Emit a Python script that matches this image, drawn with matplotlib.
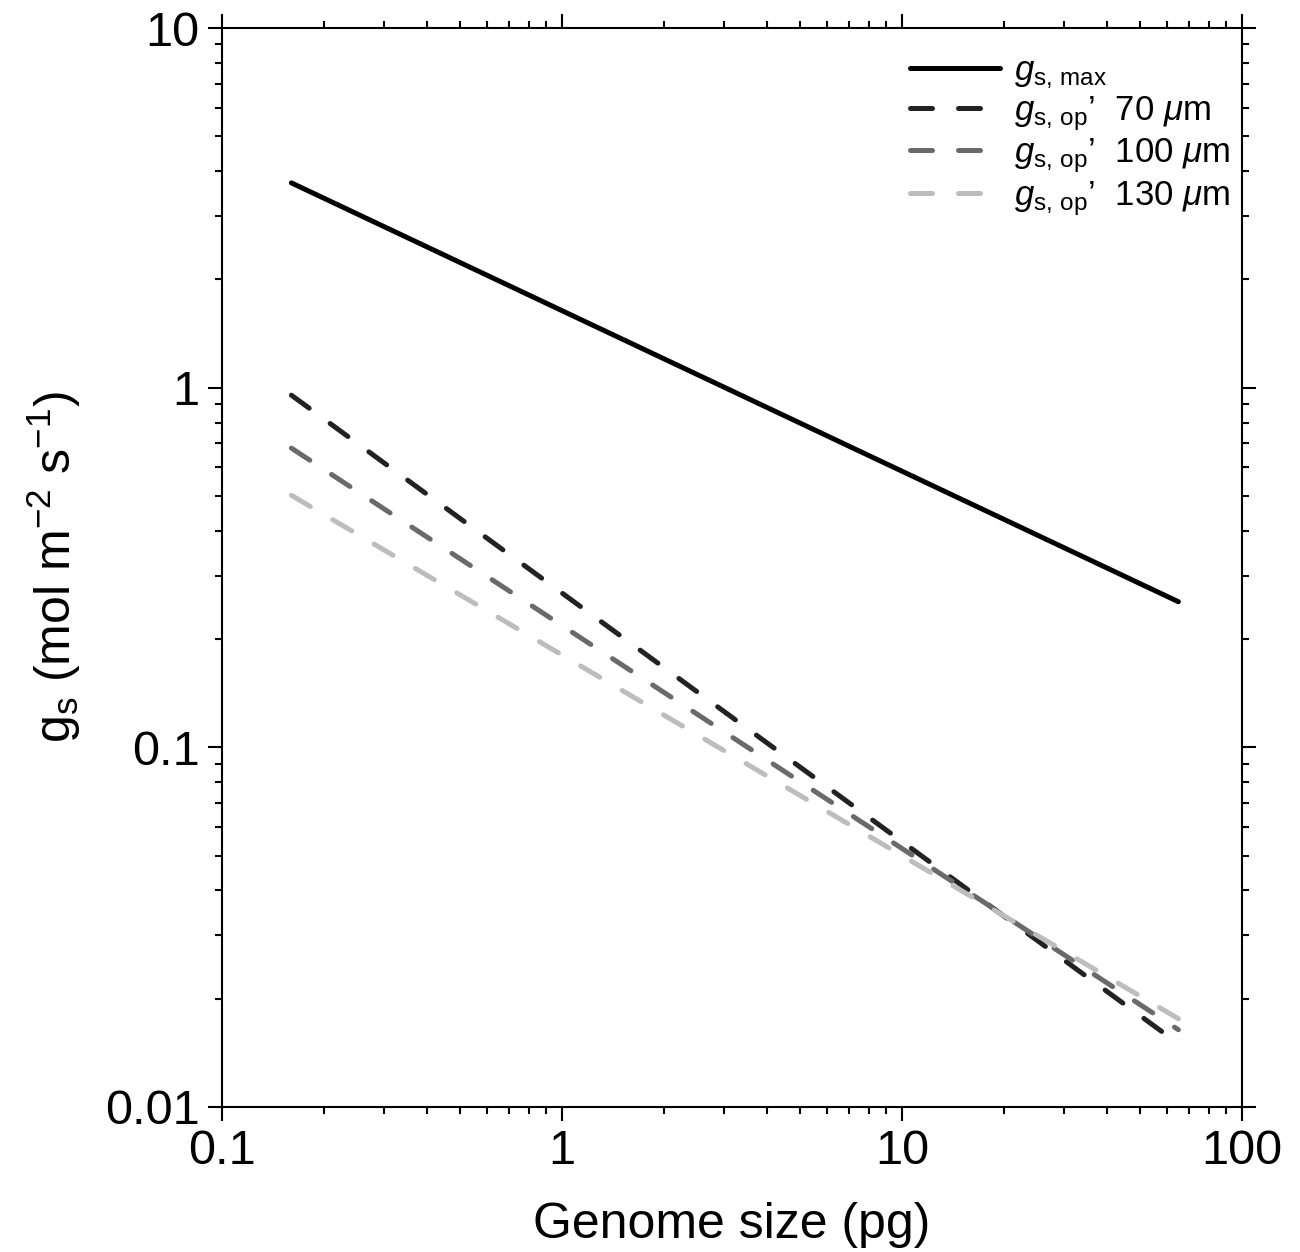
import matplotlib
matplotlib.use("Agg")
import matplotlib.pyplot as plt
from matplotlib.ticker import LogLocator, NullFormatter, FixedLocator, FixedFormatter

plt.rcParams["font.family"] = ["Liberation Sans", "DejaVu Sans"]
plt.rcParams["mathtext.fontset"] = "custom"
plt.rcParams["mathtext.rm"] = "Liberation Sans"
plt.rcParams["mathtext.it"] = "Liberation Sans:italic"
plt.rcParams["mathtext.bf"] = "Liberation Sans:bold"

# genome size (pg) at the two ends of each fitted line
genome = [0.16, 65]

# stomatal conductance (mol m-2 s-1)
gs_max = [3.71, 0.254]
gs_op_70 = [0.953, 0.0150]
gs_op_100 = [0.679, 0.0164]
gs_op_130 = [0.502, 0.0176]

labels = [r"$g_{\mathrm{s,\,max}}$",
          r"$g_{\mathrm{s,\,op}}$’  70 $\mu$m",
          r"$g_{\mathrm{s,\,op}}$’  100 $\mu$m",
          r"$g_{\mathrm{s,\,op}}$’  130 $\mu$m"]

x_ticks = [0.1, 1, 10, 100]
x_ticklabels = ["0.1", "1", "10", "100"]
y_ticks = [0.01, 0.1, 1, 10]
y_ticklabels = ["0.01", "0.1", "1", "10"]

fig = plt.figure(figsize=(13, 12.52), dpi=100)
ax = fig.add_axes([222 / 1300, 1 - 1107 / 1252, (1242 - 222) / 1300, (1107 - 28) / 1252])

lw = 3.6
dash = (0, (4.4, 5.2))
ax.plot(genome, gs_max, color="black", lw=lw, solid_capstyle="round", label=labels[0])
ax.plot(genome, gs_op_70, color="#222222", lw=lw, ls=dash, dash_capstyle="round", label=labels[1])
ax.plot(genome, gs_op_100, color="#6a6a6a", lw=lw, ls=dash, dash_capstyle="round", label=labels[2])
ax.plot(genome, gs_op_130, color="#bdbdbd", lw=lw, ls=dash, dash_capstyle="round", label=labels[3])

ax.set_xscale("log")
ax.set_yscale("log")
ax.set_xlim(0.1, 100)
ax.set_ylim(0.01, 10)

ax.xaxis.set_major_locator(FixedLocator(x_ticks))
ax.xaxis.set_major_formatter(FixedFormatter(x_ticklabels))
ax.yaxis.set_major_locator(FixedLocator(y_ticks))
ax.yaxis.set_major_formatter(FixedFormatter(y_ticklabels))
ax.xaxis.set_minor_locator(LogLocator(base=10, subs=range(2, 10)))
ax.yaxis.set_minor_locator(LogLocator(base=10, subs=range(2, 10)))
ax.xaxis.set_minor_formatter(NullFormatter())
ax.yaxis.set_minor_formatter(NullFormatter())

ax.tick_params(which="both", direction="out", top=True, right=True, width=1.5)
ax.tick_params(which="major", length=10, labelsize=35, pad=6)
ax.tick_params(which="minor", length=5)
for s in ax.spines.values():
    s.set_linewidth(1.5)

ax.set_xlabel("Genome size (pg)", fontsize=36, labelpad=20)
ax.set_ylabel(r"g$_{\mathrm{s}}$ (mol m$^{-2}$ s$^{-1}$)", fontsize=36, labelpad=16)

ax.legend(loc="upper right", frameon=False, fontsize=25, handlelength=2.6,
          handletextpad=0.4, labelspacing=0.1, borderaxespad=0.1,
          bbox_to_anchor=(1.005, 0.992))

fig.savefig("out.png", dpi=100)
